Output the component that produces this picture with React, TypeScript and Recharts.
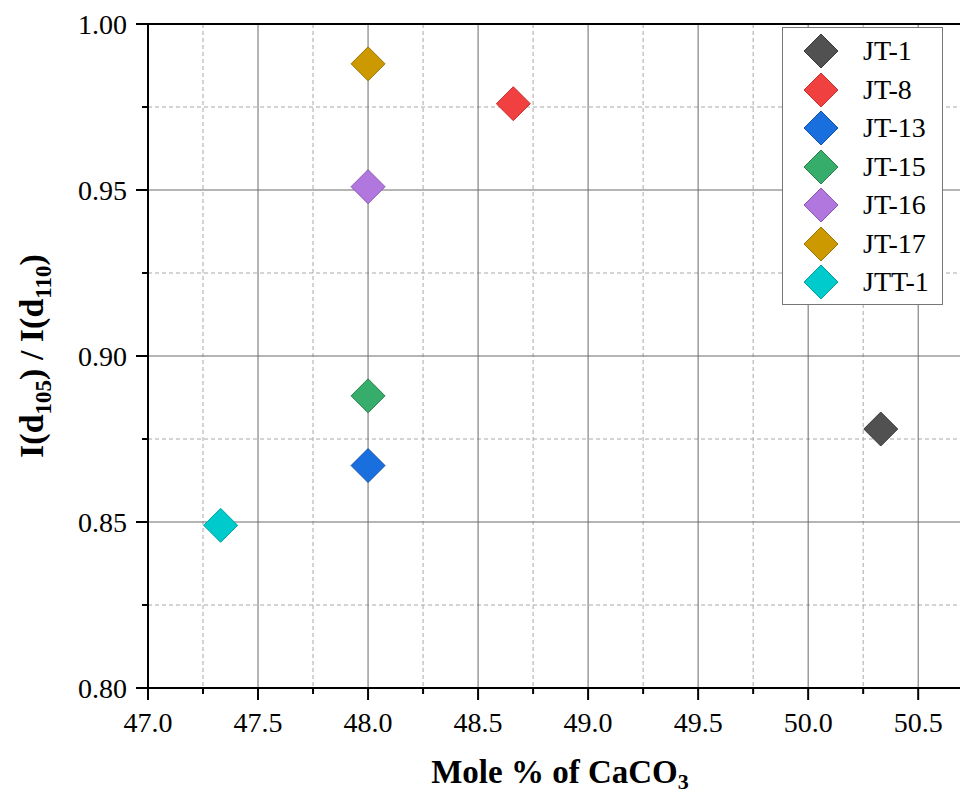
import React from 'react';
import {
  ScatterChart,
  Scatter,
  XAxis,
  YAxis,
  CartesianGrid,
  Legend,
  ReferenceLine,
  Label,
} from 'recharts';

// ---- data ----
const seriesNames = ['JT-1', 'JT-8', 'JT-13', 'JT-15', 'JT-16', 'JT-17', 'JTT-1'];
const seriesX = [50.33, 48.66, 48.0, 48.0, 48.0, 48.0, 47.33];
const seriesY = [0.878, 0.976, 0.867, 0.888, 0.951, 0.988, 0.849];
const seriesFill = ['#515151', '#F14040', '#1A6FDF', '#37AD6B', '#B177DE', '#CC9900', '#00CBCC'];
const seriesStroke = ['#3a3a3a', '#c83030', '#1550b0', '#27804e', '#8a55b8', '#9c7400', '#00a0a0'];

const xMajorTicks = [47.0, 47.5, 48.0, 48.5, 49.0, 49.5, 50.0, 50.5];
const xMinorTicks = [47.25, 47.75, 48.25, 48.75, 49.25, 49.75, 50.25];
const yMajorTicks = [0.8, 0.85, 0.9, 0.95, 1.0];
const yMinorTicks = [0.825, 0.875, 0.925, 0.975];

const xAllTicks = [...xMajorTicks, ...xMinorTicks].sort((a, b) => a - b);
const yAllTicks = [...yMajorTicks, ...yMinorTicks].sort((a, b) => a - b);

const FONT = '"Liberation Serif", "Times New Roman", serif';

const isMajor = (v: number, majors: number[]) => majors.some((m) => Math.abs(m - v) < 1e-6);

const XTick = (props: any) => {
  const { x, y, payload } = props;
  const v = payload.value;
  const major = isMajor(v, xMajorTicks);
  return (
    <g>
      <line x1={x} x2={x} y1={y} y2={y + (major ? 12 : 6)} stroke="#000" strokeWidth={2} />
      {major && (
        <text x={x} y={y + 34} textAnchor="middle" dy="0.35em" fontFamily={FONT} fontSize={28} fill="#000">
          {v.toFixed(1)}
        </text>
      )}
    </g>
  );
};

const YTick = (props: any) => {
  const { x, y, payload } = props;
  const v = payload.value;
  const major = isMajor(v, yMajorTicks);
  return (
    <g>
      <line x1={x - (major ? 12 : 6)} x2={x} y1={y} y2={y} stroke="#000" strokeWidth={2} />
      {major && (
        <text x={x - 21} y={y} textAnchor="end" dy="0.35em" fontFamily={FONT} fontSize={28} fill="#000">
          {v.toFixed(2)}
        </text>
      )}
    </g>
  );
};

const Diamond = (props: any) => {
  const { cx, cy, fill, stroke } = props;
  const r = 17;
  if (cx == null || cy == null) return null;
  return (
    <polygon
      points={`${cx},${cy - r} ${cx + r},${cy} ${cx},${cy + r} ${cx - r},${cy}`}
      fill={fill}
      stroke={stroke}
      strokeWidth={1}
    />
  );
};

const LegendContent = () => (
  <div
    style={{
      width: 161,
      height: 278,
      background: '#fff',
      border: '1px solid #777',
      boxSizing: 'border-box',
      paddingTop: 4,
    }}
  >
    {seriesNames.map((name, i) => (
      <div key={name} style={{ display: 'flex', alignItems: 'center', height: 38.5 }}>
        <svg width={78} height={38} style={{ display: 'block' }}>
          <polygon points="38,2 55,19 38,36 21,19" fill={seriesFill[i]} stroke={seriesStroke[i]} strokeWidth={1} />
        </svg>
        <span style={{ fontFamily: FONT, fontSize: 28, color: '#000', marginLeft: 2, lineHeight: '38px' }}>{name}</span>
      </div>
    ))}
  </div>
);

const XTitle = () => (
  <text x={560} y={783} textAnchor="middle" fontFamily={FONT} fontSize={33} fontWeight="bold" fill="#000">
    Mole % of CaCO
    <tspan fontSize={22} dy={6}>3</tspan>
  </text>
);

const YTitle = () => {
  const cx = 43;
  const cy = 356;
  return (
    <text
      x={cx}
      y={cy}
      transform={`rotate(-90 ${cx} ${cy})`}
      textAnchor="middle"
      fontFamily={FONT}
      fontSize={34}
      fontWeight="bold"
      fill="#000"
    >
      I(d
      <tspan fontSize={23} dy={8}>105</tspan>
      <tspan dy={-8}>) / I(d</tspan>
      <tspan fontSize={23} dy={8}>110</tspan>
      <tspan dy={-8}>)</tspan>
    </text>
  );
};

export default function App() {
  return (
    <div style={{ position: 'absolute', left: 0, top: 0, width: 960, height: 794, background: '#fff' }}>
      <ScatterChart width={960} height={794} margin={{ top: 24, right: 0, bottom: 0, left: 0 }}>
        <CartesianGrid
          verticalValues={xMinorTicks}
          horizontalValues={yMinorTicks}
          stroke="#a8a8a8"
          strokeDasharray="4 3"
        />
        <CartesianGrid verticalValues={xMajorTicks} horizontalValues={yMajorTicks} stroke="#6a6a6a" />
        <XAxis
          type="number"
          dataKey="x"
          domain={[47, 50.69]}
          ticks={xAllTicks}
          interval={0}
          allowDataOverflow
          height={106}
          tickSize={0}
          tickMargin={0}
          tickLine={false}
          tick={<XTick />}
          axisLine={{ stroke: '#000', strokeWidth: 2 }}
        >
          <Label content={<XTitle />} />
        </XAxis>
        <YAxis
          type="number"
          dataKey="y"
          domain={[0.8, 1.0]}
          ticks={yAllTicks}
          interval={0}
          allowDataOverflow
          width={148}
          tickSize={0}
          tickMargin={0}
          tickLine={false}
          tick={<YTick />}
          axisLine={{ stroke: '#000', strokeWidth: 2 }}
        >
          <Label content={<YTitle />} />
        </YAxis>
        <ReferenceLine y={1.0} stroke="#000" strokeWidth={2} />
        <Legend
          content={<LegendContent />}
          layout="vertical"
          verticalAlign="middle"
          align="center"
          wrapperStyle={{ position: 'absolute', left: 782, top: 27, width: 161, height: 278 }}
        />
        {seriesNames.map((name, i) => (
          <Scatter
            key={name}
            name={name}
            data={[{ x: seriesX[i], y: seriesY[i] }]}
            fill={seriesFill[i]}
            stroke={seriesStroke[i]}
            shape={<Diamond />}
            isAnimationActive={false}
          />
        ))}
      </ScatterChart>
    </div>
  );
}
